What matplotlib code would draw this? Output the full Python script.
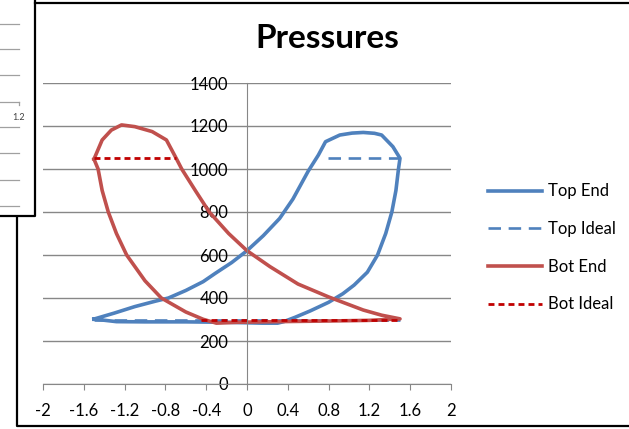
import numpy as np
import matplotlib
matplotlib.use("Agg")
import matplotlib.pyplot as plt
from matplotlib.lines import Line2D
from matplotlib.ticker import FixedLocator, FixedFormatter

plt.rcParams.update({
    "font.family": ["Lato", "DejaVu Sans"],
    "font.size": 12,
    "lines.scale_dashes": False,
})

# ---- data ----
top_end_x = [-1.50, -1.30, -1.10, -0.90, -0.77, -0.60, -0.43, -0.31, -0.15, 0.00, 0.16, 0.32,
             0.45, 0.60, 0.70, 0.77, 0.91, 1.03, 1.14, 1.25, 1.32, 1.43, 1.50,
             1.485, 1.46, 1.42, 1.36, 1.28, 1.18, 1.05, 0.94, 0.80, 0.62, 0.47, 0.36, 0.30,
             0.15, -0.20, -0.60, -1.00, -1.28, -1.50]
top_end_y = [302, 330, 360, 385, 400, 435, 476, 515, 565, 620, 690, 770,
             860, 990, 1065, 1127, 1158, 1167, 1170, 1166, 1158, 1104, 1050,
             1000, 900, 800, 700, 600, 520, 460, 420, 380, 340, 310, 290, 283,
             283, 287, 289, 289, 290, 302]

top_ideal_x = [0.79, 1.50, np.nan, -1.50, 1.50]
top_ideal_y = [1050, 1050, np.nan, 300, 300]

bot_end_x = [-1.50, -1.42, -1.33, -1.23, -1.10, -0.93, -0.79, -0.69,
             -0.64, -0.50, -0.37, -0.18, 0.00, 0.225, 0.50, 0.80, 1.14, 1.32, 1.50,
             1.20, 0.80, 0.30, -0.10, -0.30, -0.43,
             -0.60, -0.84, -1.00, -1.18, -1.28, -1.36, -1.42, -1.46, -1.50]
bot_end_y = [1046, 1135, 1181, 1205, 1197, 1174, 1135, 1046,
             1000, 895, 800, 700, 620, 546, 465, 405, 344, 320, 303,
             296, 293, 290, 287, 283, 301,
             335, 400, 480, 600, 700, 800, 900, 1000, 1046]

bot_ideal_x = [-1.50, -0.70, np.nan, -0.45, 1.50]
bot_ideal_y = [1050, 1050, np.nan, 300, 300]

x_ticks = [-2, -1.6, -1.2, -0.8, -0.4, 0, 0.4, 0.8, 1.2, 1.6, 2]
x_labels = ["-2", "-1.6", "-1.2", "-0.8", "-0.4", "0", "0.4", "0.8", "1.2", "1.6", "2"]
y_ticks = [0, 200, 400, 600, 800, 1000, 1200, 1400]

BLUE = "#4F81BD"
RED = "#C0504D"
DARKRED = "#C00000"
GRID = "#878787"

W, H = 629, 429
fig = plt.figure(figsize=(W / 100, H / 100), dpi=100)
ax = fig.add_axes([43 / W, 1 - 384 / H, (451 - 43) / W, (384 - 83) / H])

ax.plot(top_end_x, top_end_y, color=BLUE, lw=2.6, solid_joinstyle="round", label="Top End")
ax.plot(top_ideal_x, top_ideal_y, color=BLUE, lw=1.9, dashes=(9, 5.5), label="Top Ideal")
ax.plot(bot_end_x, bot_end_y, color=RED, lw=2.6, solid_joinstyle="round", label="Bot End")
ax.plot(bot_ideal_x, bot_ideal_y, color=DARKRED, lw=2.0, dashes=(4.3, 2.9), label="Bot Ideal")

ax.set_xlim(-2, 2)
ax.set_ylim(0, 1400)
ax.xaxis.set_major_locator(FixedLocator(x_ticks))
ax.xaxis.set_major_formatter(FixedFormatter(x_labels))
ax.set_yticks(y_ticks)
ax.yaxis.grid(True, color=GRID, lw=1)
ax.set_axisbelow(True)

for s in ["top", "right"]:
    ax.spines[s].set_visible(False)
ax.spines["left"].set_position(("data", 0))
ax.spines["left"].set_color(GRID)
ax.spines["bottom"].set_color(GRID)
ax.tick_params(axis="x", direction="out", length=4, color=GRID, pad=10, labelsize=12)
ax.tick_params(axis="y", length=0, pad=13.5, labelsize=12)

fig.text(327 / W, 1 - 39 / H, "Pressures", ha="center", va="center",
         fontsize=24, fontweight="bold")

ax.legend(loc="center left", bbox_to_anchor=(488 / W, 1 - 248 / H),
          bbox_transform=fig.transFigure, frameon=False, handlelength=3.24,
          handletextpad=0.36, labelspacing=1.3, borderpad=0, borderaxespad=0,
          fontsize=12)

# chart frame and the overlapping window in the top-left corner
def fline(xs, ys, **kw):
    fig.add_artist(Line2D([x / W for x in xs], [1 - y / H for y in ys],
                          transform=fig.transFigure, **kw))

fline([17, 17, W], [217, 426, 426], color="black", lw=1.6)
fline([35, W], [3, 3], color="black", lw=1.6)
fline([0, 35, 35], [216, 216, 0], color="black", lw=1.6)
for yy in [24, 49, 75, 102, 127, 153, 180, 206]:
    fline([0, 19], [yy, yy], color="#a0a0a0", lw=0.9)
fline([19, 19], [102, 105], color="#a0a0a0", lw=0.9)
fig.text(19 / W, 1 - 118 / H, "1.2", ha="center", va="center", fontsize=6.5, color="#404040")

fig.savefig("out.png", dpi=100)
